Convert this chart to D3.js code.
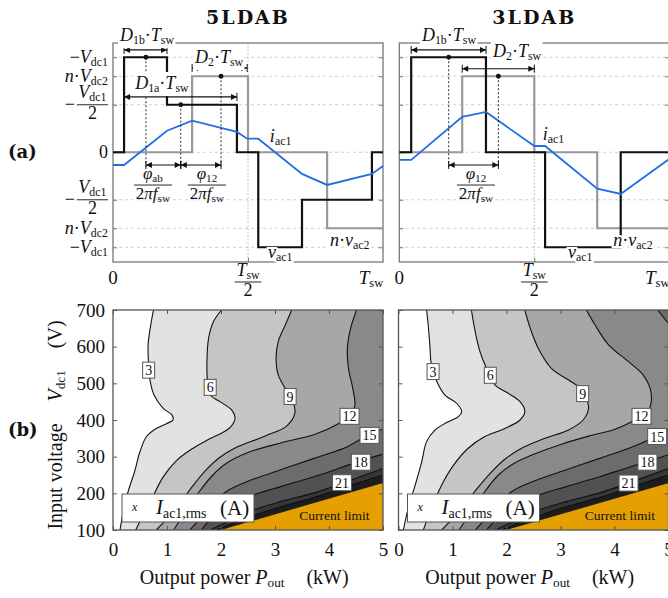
<!DOCTYPE html>
<html lang="en">
<head>
<meta charset="UTF-8">
<title>5LDAB vs 3LDAB</title>
<script src="https://d3js.org/d3.v7.min.js"></script>
<style>
    body { margin: 0; background: #fff; }
    text { font-family: "Liberation Serif", "DejaVu Serif", serif; fill: #111; }
    .title { font-family: "DejaVu Serif", serif; font-weight: bold; font-size: 19px; letter-spacing: 2px; text-anchor: middle; }
    .tag { font-family: "DejaVu Serif", serif; font-weight: bold; font-size: 18px; }
</style>
</head>
<body>
<script>
    const W = 668, H = 598;

    // ---------- (a) waveforms: time in T_sw, amplitude normalised to V_dc1 ----------
    const levelValues = [1, 0.8, 0.5, 0, -0.5, -0.8, -1];
    const levelLabels = ["−*V*_{dc1}", "*n*·*V*_{dc2}", "−[*V*_{dc1}/2]", "0", "−[*V*_{dc1}/2]", "*n*·*V*_{dc2}", "−*V*_{dc1}"];
    const timeTicks = [0, 0.5, 1];
    const timeLabels = ["0", "[*T*_{sw}/2]", "*T*_{sw}"];

    const vac1_5L = [[0, 0], [0.041, 1], [0.2, 0.5], [0.459, 0], [0.538, -1], [0.7, -0.5], [0.959, 0], [1, 0]];
    const nvac2_5L = [[0, 0], [0.293, 0.8], [0.5, 0], [0.793, -0.8], [1, -0.8]];
    const iac1_5L = [[0, -0.134], [0.041, -0.134], [0.2, 0.227], [0.293, 0.333], [0.459, 0.214], [0.497, 0.143],
        [0.538, 0.143], [0.7, -0.228], [0.793, -0.344], [0.959, -0.228], [1, -0.144]];

    const vac1_3L = [[0, 0], [0.044, 1], [0.321, 0], [0.54, -1], [0.82, 0], [1, 0]];
    const nvac2_3L = [[0, 0], [0.233, 0.8], [0.5, 0], [0.733, -0.8], [1, -0.8]];
    const iac1_3L = [[0, -0.08], [0.044, -0.08], [0.233, 0.372], [0.321, 0.424], [0.5, 0.066], [0.54, 0.066],
        [0.733, -0.383], [0.82, -0.439], [1, -0.07]];

    // duty-cycle spans [from, to, level of arrow], centre dots, phase shifts [from, to]
    const spans5L = [[0.041, 0.2, 1.077], [0.293, 0.497, 0.887], [0.041, 0.459, 0.582]];
    const spanText5L = ["*D*_{1b}·*T*_{sw}", "*D*_{2}·*T*_{sw}", "*D*_{1a}·*T*_{sw}"];
    const dots5L = [[0.122, 1], [0.251, 0.5], [0.40, 0.8]];
    const phases5L = [[0.122, 0.251], [0.251, 0.40]];
    const phaseText5L = ["[*φ*_{ab}/2*π**f*_{sw}]", "[*φ*_{12}/2*π**f*_{sw}]"];

    const spans3L = [[0.044, 0.321, 1.077], [0.233, 0.5, 0.879]];
    const spanText3L = ["*D*_{1b}·*T*_{sw}", "*D*_{2}·*T*_{sw}"];
    const dots3L = [[0.183, 1], [0.367, 0.8]];
    const phases3L = [[0.183, 0.367]];
    const phaseText3L = ["[*φ*_{12}/2*π**f*_{sw}]"];

    // ---------- (b) I_ac1,rms maps: [P_out (kW), V_dc1 (V)] ----------
    const powerTicks = [0, 1, 2, 3, 4, 5];
    const voltageTicks = [100, 200, 300, 400, 500, 600, 700];
    const contourLevels = ["3", "6", "9", "12", "15", "18", "21", "24"];
    const bandColors = ["#ffffff", "#e2e2e2", "#c5c5c5", "#a7a7a7", "#898989", "#6c6c6c", "#515151", "#373737", "#1d1d1d"];
    const currentLimit = [[2.0, 100], [5.0, 228]];

    const c3_5L = [[0.75, 700], [0.70, 660], [0.65, 605], [0.66, 550], [0.69, 505], [0.76, 468], [0.93, 432], [1.09, 414],
        [1.11, 400], [0.99, 390], [0.80, 377], [0.62, 355], [0.50, 314], [0.40, 259], [0.28, 205], [0.19, 150], [0.13, 100]];
    const c6_5L = [[2.01, 700], [1.86, 668], [1.77, 623], [1.74, 560], [1.75, 505], [1.80, 468], [1.98, 450], [2.20, 427],
        [2.26, 405], [2.17, 380], [1.98, 362], [1.74, 345], [1.43, 318], [1.18, 290], [0.93, 245], [0.70, 180], [0.52, 130], [0.42, 100]];
    const c9_5L = [[3.31, 700], [3.19, 659], [3.06, 614], [3.02, 568], [3.06, 523], [3.19, 486], [3.33, 450], [3.37, 420],
        [3.22, 384], [2.81, 356], [2.25, 323], [1.95, 295], [1.70, 260], [1.45, 215], [1.15, 155], [0.80, 100]];
    const c12_5L = [[4.51, 700], [4.40, 650], [4.34, 595], [4.36, 541], [4.44, 486], [4.48, 441], [4.40, 412], [4.20, 392],
        [3.74, 361], [3.12, 338], [2.51, 312], [2.10, 282], [1.85, 250], [1.60, 205], [1.35, 150], [1.12, 100]];
    const c15_5L = [[5.0, 375], [4.72, 359], [4.35, 328], [3.74, 296], [3.12, 265], [2.5, 233], [2.1, 205], [1.80, 160], [1.42, 100]];
    const c18_5L = [[5.0, 307], [4.59, 289], [4.2, 269], [3.74, 246], [3.12, 219], [2.51, 191], [2.1, 165], [1.85, 135], [1.63, 100]];
    const c21_5L = [[5.0, 268], [4.23, 227], [3.74, 202], [3.12, 178], [2.63, 156], [2.2, 128], [1.80, 100]];
    const c24_5L = [[5.0, 250], [4.23, 214], [3.74, 189], [3.12, 164], [2.63, 141], [2.2, 118], [1.92, 100]];
    const labelSpots5L = [[0.66, 536], [1.80, 489], [3.28, 464], [4.38, 410], [4.75, 358], [4.59, 285], [4.24, 229]];

    const c3_3L = [[0.52, 700], [0.55, 659], [0.58, 605], [0.61, 550], [0.71, 505], [0.86, 468], [1.08, 445], [1.17, 423],
        [1.11, 409], [0.92, 395], [0.68, 373], [0.52, 341], [0.43, 286], [0.31, 223], [0.18, 159], [0.09, 100]];
    const c6_3L = [[1.35, 700], [1.42, 641], [1.51, 586], [1.63, 541], [1.79, 495], [2.03, 473], [2.25, 450], [2.34, 423],
        [2.25, 400], [1.97, 377], [1.60, 355], [1.29, 323], [1.02, 277], [0.80, 223], [0.61, 159], [0.46, 100]];
    const c9_3L = [[2.34, 700], [2.44, 650], [2.59, 595], [2.83, 541], [3.15, 509], [3.36, 488], [3.48, 459], [3.52, 432],
        [3.42, 400], [3.15, 373], [2.71, 350], [2.28, 323], [1.97, 293], [1.72, 258], [1.45, 212], [1.15, 155], [0.80, 100]];
    const c12_3L = [[3.48, 700], [3.64, 659], [3.89, 605], [4.26, 559], [4.53, 523], [4.66, 486], [4.68, 450], [4.62, 423],
        [4.38, 400], [4.01, 375], [3.52, 356], [3.02, 334], [2.53, 308], [2.12, 280], [1.85, 250], [1.60, 205], [1.35, 150], [1.12, 100]];
    const c15_3L = [[4.80, 700], [4.95, 672], [5.2, 630], [5.35, 500], [5.2, 400], [4.79, 357], [4.35, 328], [3.74, 296],
        [3.12, 265], [2.5, 233], [2.1, 205], [1.80, 160], [1.42, 100]];
    const c18_3L = [[5.0, 305], [4.61, 287], [4.2, 268], [3.74, 246], [3.12, 219], [2.51, 191], [2.1, 165], [1.85, 135], [1.63, 100]];
    const c21_3L = [[5.0, 268], [4.26, 228], [3.74, 202], [3.12, 178], [2.63, 156], [2.2, 128], [1.80, 100]];
    const c24_3L = [[5.0, 250], [4.26, 215], [3.74, 189], [3.12, 164], [2.63, 141], [2.2, 118], [1.92, 100]];
    const labelSpots3L = [[0.64, 532], [1.70, 522], [3.41, 472], [4.50, 410], [4.79, 355], [4.61, 285], [4.26, 228]];

    const svg = d3.select("body").append("svg").attr("width", W).attr("height", H);
    svg.append("rect").attr("width", W).attr("height", H).attr("fill", "#fff");
    const defs = svg.append("defs");
    defs.append("marker").attr("id", "arr").attr("viewBox", "0 0 10 10")
        .attr("refX", 10).attr("refY", 5).attr("markerWidth", 8).attr("markerHeight", 6)
        .attr("markerUnits", "userSpaceOnUse").attr("orient", "auto-start-reverse")
        .append("path").attr("d", "M0,0L10,5L0,10Z").attr("fill", "#111");

    // tiny markup: *x* italic, _{..} subscript, ~ wide space
    function mathParts(str) {
        const re = /\*([^*]+)\*|_\{([^}]+)\}|(~)|([^*_~]+)/g;
        let out = [], m;
        while ((m = re.exec(str)) !== null) {
            if (m[1] !== undefined) out.push({t: m[1], it: true});
            else if (m[2] !== undefined) out.push({t: m[2], sub: true});
            else if (m[3] !== undefined) out.push({quad: true});
            else out.push({t: m[4]});
        }
        return out;
    }

    function mathText(g, str, x, y, size, anchor) {
        const t = g.append("text").attr("x", x).attr("y", y).attr("font-size", size)
            .attr("text-anchor", anchor || "start");
        let off = 0, gap = 0;
        mathParts(str).forEach(p => {
            if (p.quad) { gap += size * 1.1; return; }
            const shift = p.sub ? size * 0.17 : 0;
            t.append("tspan").attr("dy", shift - off).attr("dx", gap || null)
                .attr("font-size", p.sub ? size * 0.66 : size)
                .attr("font-style", p.it ? "italic" : null)
                .text(p.t);
            off = shift;
            gap = 0;
        });
        return t;
    }

    // fraction "pre[num/den]" with its bar at y
    function fracText(g, str, x, y, size, anchor) {
        const m = str.match(/^([^\[]*)\[(.*)\/(.*)\]$/);
        if (!m) return mathText(g, str, x, y + size * 0.3, size, anchor);
        const grp = g.append("g");
        const n = mathText(grp, m[2], 0, y - size * 0.36, size, "middle");
        const d = mathText(grp, m[3], 0, y + size * 0.8, size, "middle");
        const w = Math.max(n.node().getBBox().width, d.node().getBBox().width) + 3;
        let preW = 0, p = null;
        if (m[1]) {
            p = grp.append("text").attr("y", y + size * 0.3).attr("font-size", size).text(m[1]);
            preW = p.node().getBBox().width + 2;
        }
        const total = preW + w;
        const left = anchor === "end" ? x - total : anchor === "middle" ? x - total / 2 : x;
        if (p) p.attr("x", left);
        n.attr("x", left + preW + w / 2);
        d.attr("x", left + preW + w / 2);
        grp.append("line").attr("x1", left + preW).attr("x2", left + preW + w)
            .attr("y1", y).attr("y2", y).attr("stroke", "#111").attr("stroke-width", 0.9);
        return grp;
    }

    function whiteBg(g, pad) {
        const b = g.node().getBBox();
        g.insert("rect", ":first-child").attr("x", b.x - pad).attr("y", b.y - pad)
            .attr("width", b.width + 2 * pad).attr("height", b.height + 2 * pad).attr("fill", "#fff");
    }

    function halo(t) {
        t.attr("stroke", "#fff").attr("stroke-width", 4).attr("paint-order", "stroke");
    }

    function arrowSpan(g, x, y, a, b, v) {
        g.append("line").attr("x1", x(a)).attr("x2", x(b)).attr("y1", y(v)).attr("y2", y(v))
            .attr("stroke", "#111").attr("stroke-width", 1.2)
            .attr("marker-start", "url(#arr)").attr("marker-end", "url(#arr)");
        [a, b].forEach(t => g.append("line").attr("x1", x(t)).attr("x2", x(t))
            .attr("y1", y(v) - 4).attr("y2", y(v) + 4).attr("stroke", "#111").attr("stroke-width", 1));
    }

    function drawWaves(p) {
        const x = d3.scaleLinear().domain([0, 1]).range([p.left, p.left + 270]);
        const y = d3.scaleLinear().domain([-1.155, 1.15]).range([262, 43]);
        const g = svg.append("g");

        g.selectAll(".grid").data(levelValues).join("line")
            .attr("x1", x(0)).attr("x2", x(1)).attr("y1", d => y(d)).attr("y2", d => y(d))
            .attr("stroke", "#c2c2c2").attr("stroke-width", 0.8).attr("stroke-dasharray", "3,3");
        g.append("line").attr("x1", x(0.5)).attr("x2", x(0.5)).attr("y1", y(1.15)).attr("y2", y(-1.155))
            .attr("stroke", "#aaa").attr("stroke-width", 0.9).attr("stroke-dasharray", "1.5,2");

        g.append("rect").attr("x", x(0)).attr("y", y(1.15)).attr("width", x(1) - x(0))
            .attr("height", y(-1.155) - y(1.15)).attr("fill", "none").attr("stroke", "#777").attr("stroke-width", 1.3);
        const tk = a => a.call(s => s.select(".domain").remove()).selectAll("line").attr("stroke", "#777");
        g.append("g").attr("transform", `translate(${x(0)},0)`)
            .call(d3.axisLeft(y).tickValues(levelValues).tickSize(-4).tickFormat("")).call(tk);
        g.append("g").attr("transform", `translate(${x(1)},0)`)
            .call(d3.axisRight(y).tickValues(levelValues).tickSize(-4).tickFormat("")).call(tk);
        g.append("g").attr("transform", `translate(0,${y(-1.155)})`)
            .call(d3.axisBottom(x).tickValues([0.5]).tickSize(-4).tickFormat("")).call(tk);

        const step = d3.line().x(d => x(d[0])).y(d => y(d[1])).curve(d3.curveStepAfter);
        const poly = d3.line().x(d => x(d[0])).y(d => y(d[1]));
        g.append("path").attr("d", step(p.nvac2)).attr("fill", "none").attr("stroke", "#999").attr("stroke-width", 2.2);
        g.append("path").attr("d", step(p.vac1)).attr("fill", "none").attr("stroke", "#111").attr("stroke-width", 2.2);
        g.append("path").attr("d", poly(p.iac1)).attr("fill", "none").attr("stroke", "#1f6fe0").attr("stroke-width", 1.8);

        p.dots.forEach(d => {
            g.append("line").attr("x1", x(d[0])).attr("x2", x(d[0])).attr("y1", y(d[1])).attr("y2", y(-0.16))
                .attr("stroke", "#111").attr("stroke-width", 0.9).attr("stroke-dasharray", "2,2");
        });
        p.spans.forEach(s => arrowSpan(g, x, y, s[0], s[1], s[2]));
        p.phases.forEach(s => arrowSpan(g, x, y, s[0], s[1], -0.134));
        p.dots.forEach(d => g.append("circle").attr("cx", x(d[0])).attr("cy", y(d[1])).attr("r", 2.4).attr("fill", "#111"));

        p.spanText.forEach((s, i) => {
            const lg = g.append("g");
            mathText(lg, s, x(p.spanPos[i][0]), y(p.spanPos[i][1]), 18, "middle");
            whiteBg(lg, 1);
        });
        p.phaseText.forEach((s, i) => {
            fracText(g, s, x(p.phasePos[i][0]), y(p.phasePos[i][1]), 17, "middle");
        });

        halo(mathText(g, "*i*_{ac1}", x(p.iPos[0]), y(p.iPos[1]), 18, "start"));
        halo(mathText(g, "*v*_{ac1}", x(p.vPos[0]), y(p.vPos[1]), 18, "start"));
        halo(mathText(g, "*n*·*v*_{ac2}", x(p.nPos[0]), y(p.nPos[1]), 18, "start"));

        if (p.yLabels) {
            levelValues.forEach((v, i) => fracText(g, levelLabels[i], x(0) - 5, y(v), 18, "end"));
        }
        timeTicks.forEach((t, i) => {
            const xx = t === 1 ? x(t) - 12 : x(t);
            if (timeLabels[i].startsWith("[")) fracText(g, timeLabels[i], xx, 282, 18, "middle");
            else mathText(g, timeLabels[i], xx, 284, 19, "middle");
        });

        svg.append("text").attr("class", "title").attr("x", x(0.5)).attr("y", 24).text(p.title);
    }

    function drawMap(p) {
        const x = d3.scaleLinear().domain([0, 5]).range([p.left, p.left + 270]);
        const y = d3.scaleLinear().domain([100, 700]).range([530, 310]);
        const clipId = "clip-" + p.id;
        defs.append("clipPath").attr("id", clipId).append("rect")
            .attr("x", x(0)).attr("y", y(700)).attr("width", x(5) - x(0)).attr("height", y(100) - y(700));
        const g = svg.append("g");
        const area = g.append("g").attr("clip-path", `url(#${clipId})`);
        area.append("rect").attr("x", x(0)).attr("y", y(700)).attr("width", x(5) - x(0))
            .attr("height", y(100) - y(700)).attr("fill", bandColors[0]);

        const curve = d3.line().x(d => x(d[0])).y(d => y(d[1])).curve(d3.curveCatmullRom.alpha(0.5));
        p.contours.forEach((c, i) => {
            area.append("path").attr("d", curve(c) + `L${x(7)},${y(90)}L${x(7)},${y(710)}Z`)
                .attr("fill", bandColors[i + 1]);
        });
        const slope = (currentLimit[1][1] - currentLimit[0][1]) / (currentLimit[1][0] - currentLimit[0][0]);
        const lim = [currentLimit[0], currentLimit[1], [7, currentLimit[1][1] + slope * 2], [7, 90], [currentLimit[0][0], 90]];
        area.append("path").attr("d", d3.line().x(d => x(d[0])).y(d => y(d[1]))(lim) + "Z").attr("fill", "#e69f00");
        p.contours.forEach(c => {
            area.append("path").attr("d", curve(c)).attr("fill", "none").attr("stroke", "#111").attr("stroke-width", 1.1);
        });

        p.labelSpots.forEach((s, i) => {
            const lg = g.append("g");
            const t = lg.append("text").attr("x", x(s[0])).attr("y", y(s[1]) + 5).attr("font-size", 14)
                .attr("text-anchor", "middle").text(contourLevels[i]);
            const b = t.node().getBBox();
            lg.insert("rect", "text").attr("x", b.x - 2.5).attr("y", y(s[1]) - 8).attr("width", b.width + 5)
                .attr("height", 16).attr("fill", "#fff").attr("stroke", "#555").attr("stroke-width", 1);
        });

        area.append("text").attr("x", x(3.45)).attr("y", y(128)).attr("font-size", 13.5).attr("fill", "#2a2a2a")
            .text("Current limit");

        // legend
        const lx = x(0) + 9, ly = y(700) + 184;
        g.append("rect").attr("x", lx).attr("y", ly).attr("width", 132).attr("height", 28)
            .attr("fill", "#fff").attr("stroke", "#555").attr("stroke-width", 1);
        g.append("text").attr("x", lx + 10).attr("y", ly + 17).attr("font-size", 12).attr("font-style", "italic")
            .attr("fill", "#555").text("x");
        mathText(g, "*I*_{ac1,rms}", lx + 34, ly + 20, 21, "start");
        g.append("text").attr("x", lx + 98).attr("y", ly + 21).attr("font-size", 21).text("(A)");

        // frame and axes
        const tk = a => a.call(s => s.select(".domain").remove()).selectAll("line").attr("stroke", "#555");
        const bx = g.append("g").attr("transform", `translate(0,${y(100)})`)
            .call(d3.axisBottom(x).tickValues(powerTicks).tickSize(-4).tickPadding(13).tickFormat(d3.format("d"))).call(tk);
        bx.attr("font-family", null).attr("font-size", 19);
        g.append("g").attr("transform", `translate(0,${y(700)})`)
            .call(d3.axisTop(x).tickValues(powerTicks).tickSize(-4).tickFormat("")).call(tk);
        const ly2 = g.append("g").attr("transform", `translate(${x(0)},0)`)
            .call(d3.axisLeft(y).tickValues(voltageTicks).tickSize(-4).tickPadding(8)
                .tickFormat(p.yLabels ? d3.format("d") : "")).call(tk);
        ly2.attr("font-family", null).attr("font-size", 19);
        g.append("g").attr("transform", `translate(${x(5)},0)`)
            .call(d3.axisRight(y).tickValues(voltageTicks).tickSize(-4).tickFormat("")).call(tk);
        g.selectAll(".tick text").attr("fill", "#111");
        g.append("rect").attr("x", x(0)).attr("y", y(700)).attr("width", x(5) - x(0))
            .attr("height", y(100) - y(700)).attr("fill", "none").attr("stroke", "#555").attr("stroke-width", 1.3);

        mathText(g, "Output power *P*_{out}~(kW)", x(2.43), 584, 20, "middle");
        if (p.yLabels) {
            const yt = g.append("g").attr("transform", `translate(62,${(y(100) + y(700)) / 2 + 5}) rotate(-90)`);
            mathText(yt, "Input voltage~*V*_{dc1}~(V)", 0, 0, 20, "middle");
        }
    }

    drawWaves({
        title: "5LDAB", left: 113, yLabels: true,
        vac1: vac1_5L, nvac2: nvac2_5L, iac1: iac1_5L,
        spans: spans5L, spanText: spanText5L, spanPos: [[0.126, 1.17], [0.393, 0.94], [0.181, 0.666]],
        dots: dots5L, phases: phases5L, phaseText: phaseText5L, phasePos: [[0.148, -0.345], [0.348, -0.345]],
        iPos: [0.581, 0.108], vPos: [0.574, -1.114], nPos: [0.804, -0.985]
    });
    drawWaves({
        title: "3LDAB", left: 399.3, yLabels: false,
        vac1: vac1_3L, nvac2: nvac2_3L, iac1: iac1_3L,
        spans: spans3L, spanText: spanText3L, spanPos: [[0.184, 1.17], [0.436, 1.0]],
        dots: dots3L, phases: phases3L, phaseText: phaseText3L, phasePos: [[0.284, -0.345]],
        iPos: [0.531, 0.13], vPos: [0.625, -1.114], nPos: [0.792, -0.985]
    });

    drawMap({
        id: "5L", left: 113, yLabels: true,
        contours: [c3_5L, c6_5L, c9_5L, c12_5L, c15_5L, c18_5L, c21_5L, c24_5L], labelSpots: labelSpots5L
    });
    drawMap({
        id: "3L", left: 398.5, yLabels: false,
        contours: [c3_3L, c6_3L, c9_3L, c12_3L, c15_3L, c18_3L, c21_3L, c24_3L], labelSpots: labelSpots3L
    });

    svg.append("text").attr("class", "tag").attr("x", 8).attr("y", 158).text("(a)");
    svg.append("text").attr("class", "tag").attr("x", 8).attr("y", 436).text("(b)");
</script>
</body>
</html>
